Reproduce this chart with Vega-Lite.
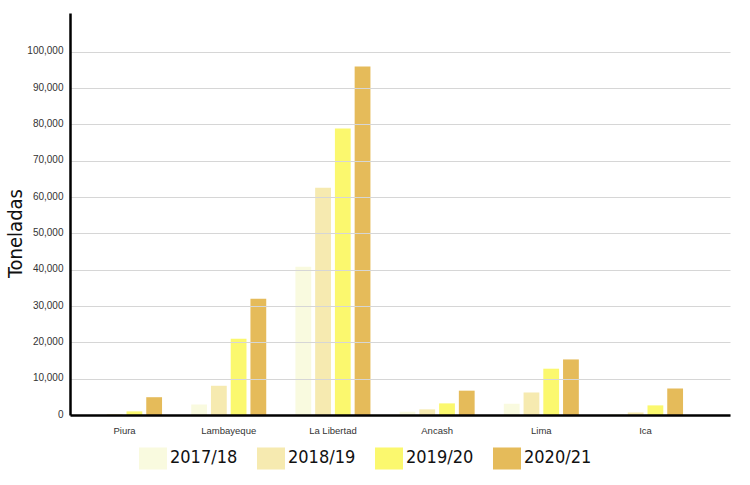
{
  "$schema": "https://vega.github.io/schema/vega-lite/v6.json",
  "width": 660,
  "height": 402,
  "autosize": "none",
  "padding": {"left": 70, "top": 13, "right": 20, "bottom": 70},
  "background": "white",
  "data": {"values": [
    {"region": "Piura", "season": "2017/18", "t": 0},
    {"region": "Piura", "season": "2018/19", "t": 250},
    {"region": "Piura", "season": "2019/20", "t": 1000},
    {"region": "Piura", "season": "2020/21", "t": 4900},
    {"region": "Lambayeque", "season": "2017/18", "t": 2900},
    {"region": "Lambayeque", "season": "2018/19", "t": 8050},
    {"region": "Lambayeque", "season": "2019/20", "t": 21000},
    {"region": "Lambayeque", "season": "2020/21", "t": 32000},
    {"region": "La Libertad", "season": "2017/18", "t": 40850},
    {"region": "La Libertad", "season": "2018/19", "t": 62600},
    {"region": "La Libertad", "season": "2019/20", "t": 78900},
    {"region": "La Libertad", "season": "2020/21", "t": 95950},
    {"region": "Ancash", "season": "2017/18", "t": 900},
    {"region": "Ancash", "season": "2018/19", "t": 1550},
    {"region": "Ancash", "season": "2019/20", "t": 3200},
    {"region": "Ancash", "season": "2020/21", "t": 6700},
    {"region": "Lima", "season": "2017/18", "t": 3100},
    {"region": "Lima", "season": "2018/19", "t": 6200},
    {"region": "Lima", "season": "2019/20", "t": 12750},
    {"region": "Lima", "season": "2020/21", "t": 15300},
    {"region": "Ica", "season": "2017/18", "t": 250},
    {"region": "Ica", "season": "2018/19", "t": 700},
    {"region": "Ica", "season": "2019/20", "t": 2650},
    {"region": "Ica", "season": "2020/21", "t": 7300}
  ]},
  "mark": {"type": "bar"},
  "encoding": {
    "x": {
      "field": "region", "type": "nominal",
      "sort": ["Piura", "Lambayeque", "La Libertad", "Ancash", "Lima", "Ica"],
      "scale": {"paddingInner": 0.28, "paddingOuter": 0.307, "align": 0.266},
      "axis": {
        "title": null, "labelAngle": 0, "ticks": false,
        "domainColor": "#000000", "domainWidth": 2.5,
        "labelFont": "Liberation Sans", "labelFontSize": 9.5, "labelColor": "#333333",
        "labelPadding": 10, "zindex": 1
      }
    },
    "xOffset": {
      "field": "season", "type": "nominal",
      "scale": {"paddingInner": 0.2}
    },
    "y": {
      "field": "t", "type": "quantitative",
      "scale": {"domain": [0, 110700], "nice": false},
      "axis": {
        "title": "Toneladas",
        "titleFont": "Liberation Sans Narrow, DejaVu Sans Condensed, sans-serif", "titleFontWeight": "normal", "titleFontSize": 20, "titleColor": "#111111",
        "titleX": -55, "titleY": 220, "titleAngle": -90, "titleBaseline": "middle", "titleAlign": "center",
        "values": [0, 10000, 20000, 30000, 40000, 50000, 60000, 70000, 80000, 90000, 100000],
        "format": ",d",
        "ticks": false,
        "labelFont": "Liberation Sans", "labelFontSize": 10, "labelColor": "#333333",
        "labelPadding": 7, "labelBaseline": "alphabetic", "labelOffset": 2,
        "domainColor": "#000000", "domainWidth": 2.5,
        "grid": true, "gridColor": "#d6d6d6", "gridWidth": 1.2,
        "zindex": 1
      }
    },
    "color": {
      "field": "season", "type": "nominal",
      "scale": {
        "domain": ["2017/18", "2018/19", "2019/20", "2020/21"],
        "range": ["#f9fadf", "#f6eab0", "#fbf86e", "#e5bb5a"]
      },
      "legend": {
        "title": null,
        "orient": "none",
        "legendX": 69,
        "legendY": 431,
        "direction": "horizontal",
        "symbolType": "M-1,-0.786L1,-0.786L1,0.786L-1,0.786Z",
        "symbolSize": 784,
        "symbolStrokeWidth": 0,
        "labelFont": "Liberation Sans Narrow, DejaVu Sans Condensed, sans-serif", "labelFontSize": 18, "labelColor": "#111111",
        "labelOffset": 3,
        "columnPadding": 19
      }
    }
  },
  "config": {"view": {"stroke": null}}
}
